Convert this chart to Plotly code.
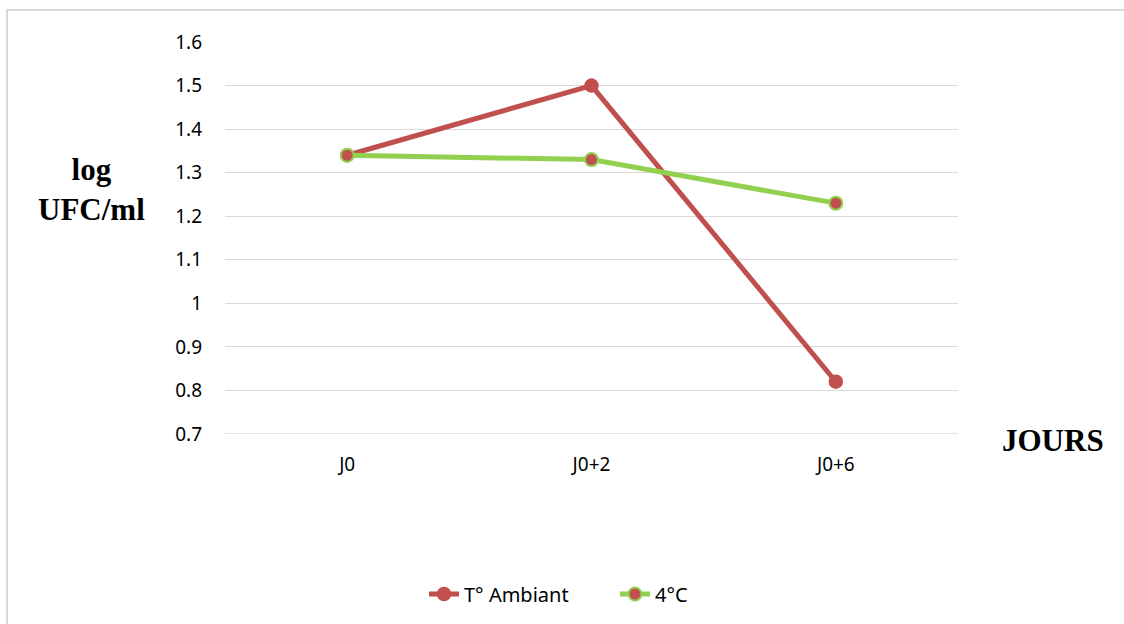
import plotly.graph_objects as go

jours = ["J0", "J0+2", "J0+6"]
t_ambiant = [1.34, 1.50, 0.82]
froid_4c = [1.34, 1.33, 1.23]
y_ticks = [0.7, 0.8, 0.9, 1.0, 1.1, 1.2, 1.3, 1.4, 1.5, 1.6]
y_tick_labels = ["0.7", "0.8", "0.9", "1", "1.1", "1.2", "1.3", "1.4", "1.5", "1.6"]

RED = "#C0504D"
GREEN = "#92D050"
GRID = "#D9D9D9"

W, H = 1124, 624
ML, MR, MT, MB = 225, 166, 42, 190
PW, PH = W - ML - MR, H - MT - MB


def px_x(x):
    return (x - ML) / PW


def px_y(y):
    return (H - MB - y) / PH


fig = go.Figure()
fig.add_trace(go.Scatter(
    x=jours, y=t_ambiant, name="T° Ambiant", mode="lines+markers",
    line=dict(color=RED, width=5),
    marker=dict(size=13, color=RED, line=dict(color=RED, width=1.5)),
))
fig.add_trace(go.Scatter(
    x=jours, y=froid_4c, name="4°C", mode="lines+markers",
    line=dict(color=GREEN, width=5),
    marker=dict(size=13, color=RED, line=dict(color=GREEN, width=2)),
))

fig.update_layout(
    width=W, height=H,
    margin=dict(l=ML, r=MR, t=MT, b=MB, autoexpand=False),
    paper_bgcolor="white", plot_bgcolor="white",
    font=dict(family="Noto Sans, Liberation Sans, sans-serif", size=19, color="#000000"),
    xaxis=dict(
        type="category", range=[-0.5, 2.5], showgrid=False,
        showline=False, zeroline=False, ticks="", ticklabelstandoff=17,
        tickfont=dict(size=19),
    ),
    yaxis=dict(
        range=[0.7, 1.6], tickvals=y_ticks, ticktext=y_tick_labels,
        showgrid=True, gridcolor=GRID, gridwidth=1.3, zeroline=False,
        showline=False, ticks="", ticklabelstandoff=22,
        tickfont=dict(size=19),
    ),
    legend=dict(
        orientation="h", x=px_x(615), y=px_y(594), xanchor="center", yanchor="middle",
        font=dict(size=20), bgcolor="rgba(0,0,0,0)", entrywidth=146,
    ),
    showlegend=True,
    shapes=[
        dict(type="rect", xref="paper", yref="paper",
             x0=px_x(7), x1=px_x(W + 20), y0=px_y(H + 20), y1=px_y(10),
             line=dict(color=GRID, width=2), fillcolor="rgba(0,0,0,0)", layer="below"),
        dict(type="line", xref="paper", yref="y", x0=0, x1=1, y0=0.7, y1=0.7,
             line=dict(color=GRID, width=1.3), layer="below"),
    ],
    annotations=[
        dict(text="<b>log<br>UFC/ml</b>", xref="paper", yref="paper",
             x=px_x(91), y=px_y(189), showarrow=False,
             xanchor="center", yanchor="middle", align="center",
             font=dict(family="Liberation Serif, serif", size=31)),
        dict(text="<b>JOURS</b>", xref="paper", yref="paper", x=px_x(1053), y=px_y(440),
             showarrow=False, xanchor="center", yanchor="middle",
             font=dict(family="Liberation Serif, serif", size=31)),
    ],
)

fig.write_html("out.html")
